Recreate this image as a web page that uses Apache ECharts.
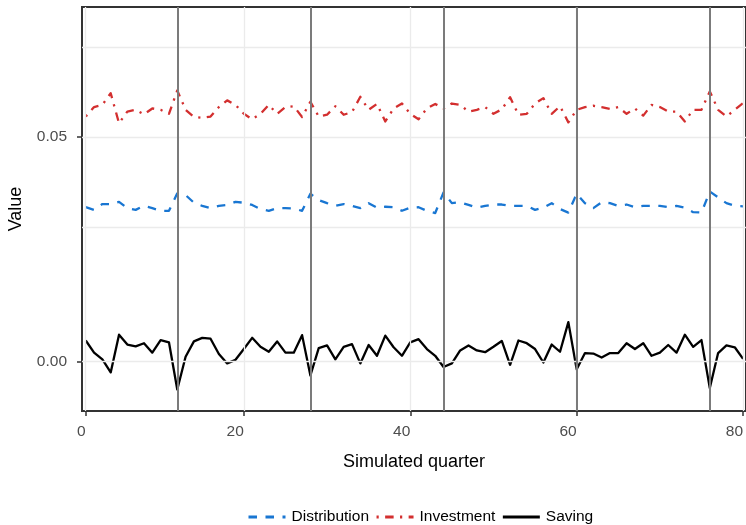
<!DOCTYPE html>
<html>
<head>
<meta charset="utf-8">
<script src="https://cdn.jsdelivr.net/npm/echarts@6/dist/echarts.min.js"></script>
<style>html,body{margin:0;padding:0;background:#fff;}#c{width:746px;height:525px;}</style>
</head>
<body>
<div id="c"></div>
<script>
const quarters = [1,2,3,4,5,6,7,8,9,10,11,12,13,14,15,16,17,18,19,20,21,22,23,24,25,26,27,28,29,30,31,32,33,34,35,36,37,38,39,40,41,42,43,44,45,46,47,48,49,50,51,52,53,54,55,56,57,58,59,60,61,62,63,64,65,66,67,68,69,70,71,72,73,74,75,76,77,78,79,80];
const distribution = [0.0344,0.0338,0.0351,0.0351,0.0356,0.0342,0.0338,0.0347,0.0342,0.0336,
0.0336,0.0375,0.0371,0.0354,0.0347,0.0342,0.0347,0.0349,0.0356,0.0354,
0.0349,0.0340,0.0336,0.0342,0.0342,0.0341,0.0336,0.0374,0.0360,0.0353,
0.0347,0.0351,0.0347,0.0342,0.0353,0.0343,0.0345,0.0344,0.0336,0.0343,
0.0344,0.0336,0.0331,0.0377,0.0353,0.0355,0.0349,0.0343,0.0347,0.0350,
0.0350,0.0347,0.0347,0.0347,0.0338,0.0343,0.0353,0.0340,0.0332,0.0374,
0.0353,0.0342,0.0355,0.0353,0.0347,0.0350,0.0344,0.0347,0.0347,0.0347,
0.0344,0.0347,0.0343,0.0333,0.0332,0.0379,0.0366,0.0353,0.0347,0.0346];
const investment = [0.0546,0.0567,0.0572,0.0598,0.0531,0.0557,0.0561,0.0551,0.0564,0.0561,
0.0552,0.0604,0.0561,0.0545,0.0543,0.0546,0.0567,0.0582,0.0572,0.0552,
0.0540,0.0552,0.0572,0.0552,0.0567,0.0569,0.0545,0.0579,0.0546,0.0550,
0.0569,0.0550,0.0556,0.0590,0.0561,0.0574,0.0535,0.0564,0.0575,0.0552,
0.0540,0.0564,0.0574,0.0564,0.0575,0.0572,0.0557,0.0561,0.0567,0.0552,
0.0562,0.0589,0.0550,0.0552,0.0575,0.0587,0.0552,0.0569,0.0533,0.0561,
0.0567,0.0570,0.0567,0.0563,0.0567,0.0552,0.0564,0.0548,0.0572,0.0567,
0.0557,0.0557,0.0535,0.0561,0.0561,0.0602,0.0561,0.0546,0.0561,0.0576];
const saving = [0.0047,0.0020,0.0005,-0.0024,0.0060,0.0038,0.0034,0.0041,0.0020,0.0048,
0.0043,-0.0062,0.0011,0.0045,0.0053,0.0051,0.0017,-0.0004,0.0004,0.0028,
0.0053,0.0033,0.0022,0.0045,0.0020,0.0020,0.0059,-0.0031,0.0030,0.0036,
0.0005,0.0033,0.0039,-0.0004,0.0037,0.0013,0.0058,0.0032,0.0013,0.0043,
0.0050,0.0028,0.0013,-0.0012,-0.0004,0.0025,0.0036,0.0025,0.0021,0.0033,
0.0046,-0.0007,0.0047,0.0041,0.0028,-0.0002,0.0038,0.0022,0.0088,-0.0017,
0.0019,0.0018,0.0009,0.0019,0.0019,0.0041,0.0028,0.0041,0.0013,0.0020,
0.0037,0.0020,0.0060,0.0033,0.0048,-0.0059,0.0019,0.0036,0.0032,0.0006];
const xTickValues = [1,20,40,60,80];
const xTickLabels = ['0','20','40','60','80'];
const yTickValues = [0,0.05];
const yTickLabels = ['0.00','0.05'];
const yGridValues = [0,0.025,0.05,0.075];
const breakQuarters = [12,28,44,60,76];

const FONT = '"Liberation Sans", Arial, Helvetica, sans-serif';
const pair = (ys) => quarters.map((q, i) => [q, ys[i]]);

const chart = echarts.init(document.getElementById('c'), null, {renderer: 'canvas'});
chart.setOption({
  animation: false,
  backgroundColor: '#ffffff',
  grid: {left: 82, right: 0, top: 7, bottom: 114, show: true, borderColor: '#333333', borderWidth: 2,
    backgroundColor: 'transparent', containLabel: false, outerBoundsMode: 'none'},
  xAxis: {
    type: 'value', min: 0.55, max: 80.35,
    name: 'Simulated quarter', nameLocation: 'middle', nameGap: 42,
    nameTextStyle: {fontFamily: FONT, fontSize: 18, color: '#000'},
    axisLine: {show: true, onZero: false, lineStyle: {color: '#333333', width: 2}},
    axisTick: {show: true, length: 5, customValues: xTickValues, lineStyle: {color: '#333333', width: 1.5}},
    axisLabel: {customValues: xTickValues, margin: 13, fontFamily: FONT, fontSize: 15.5, color: '#4d4d4d',
      align: 'right', hideOverlap: false, showMinLabel: true, showMaxLabel: true,
      formatter: (v) => { const i = xTickValues.indexOf(v); return i >= 0 ? xTickLabels[i] : ''; }},
    splitLine: {show: false}
  },
  yAxis: {
    type: 'value', min: -0.011, max: 0.079,
    name: 'Value', nameLocation: 'middle', nameGap: 57, nameRotate: 90,
    nameTextStyle: {fontFamily: FONT, fontSize: 18, color: '#000'},
    axisLine: {show: true, onZero: false, lineStyle: {color: '#333333', width: 2}},
    axisTick: {show: true, length: 5, customValues: yTickValues, lineStyle: {color: '#333333', width: 1.5}},
    axisLabel: {customValues: yTickValues, margin: 15, fontFamily: FONT, fontSize: 15.5, color: '#4d4d4d',
      formatter: (v) => { const i = yTickValues.findIndex(t => Math.abs(t - v) < 1e-9); return i >= 0 ? yTickLabels[i] : ''; }},
    splitLine: {show: false}
  },
  legend: {
    show: true, left: 242, top: 504, itemWidth: 37, itemHeight: 16, itemGap: 6,
    itemStyle: {color: 'rgba(0,0,0,0)', borderWidth: 0, opacity: 0},
    lineStyle: {width: 3},
    textStyle: {fontFamily: FONT, fontSize: 15.5, color: '#000', padding: [0,0,0,1]},
    data: ['Distribution', 'Investment', 'Saving']
  },
  series: [
    {
      name: 'grid', type: 'line', data: [], silent: true, z: 1, symbol: 'none',
      markLine: {
        silent: true, symbol: ['none','none'], label: {show: false}, animation: false,
        lineStyle: {color: '#ebebeb', width: 1.3, type: 'solid'},
        data: xTickValues.map(v => ({xAxis: v})).concat(yGridValues.map(v => ({yAxis: v})))
      }
    },
    {
      name: 'breaks', type: 'line', data: [], silent: true, z: 2, symbol: 'none',
      markLine: {
        silent: true, symbol: ['none','none'], label: {show: false}, animation: false,
        lineStyle: {color: '#7b7b7b', width: 2, type: 'solid'},
        data: breakQuarters.map(v => ({xAxis: v}))
      }
    },
    {
      name: 'Distribution', type: 'line', data: pair(distribution), symbol: 'none', z: 3,
      itemStyle: {color: '#1976D2'},
      lineStyle: {color: '#1976D2', width: 2.3, type: [8.5, 8.5], cap: 'butt', join: 'round'}
    },
    {
      name: 'Investment', type: 'line', data: pair(investment), symbol: 'none', z: 3,
      itemStyle: {color: '#D32F2F'},
      lineStyle: {color: '#D32F2F', width: 2.3, type: [2.2, 6.4, 8.5, 6.4], cap: 'butt', join: 'round'}
    },
    {
      name: 'Saving', type: 'line', data: pair(saving), symbol: 'none', z: 3,
      itemStyle: {color: '#000000'},
      lineStyle: {color: '#000000', width: 2.3, type: 'solid', join: 'round'}
    }
  ]
});
</script>
</body>
</html>
